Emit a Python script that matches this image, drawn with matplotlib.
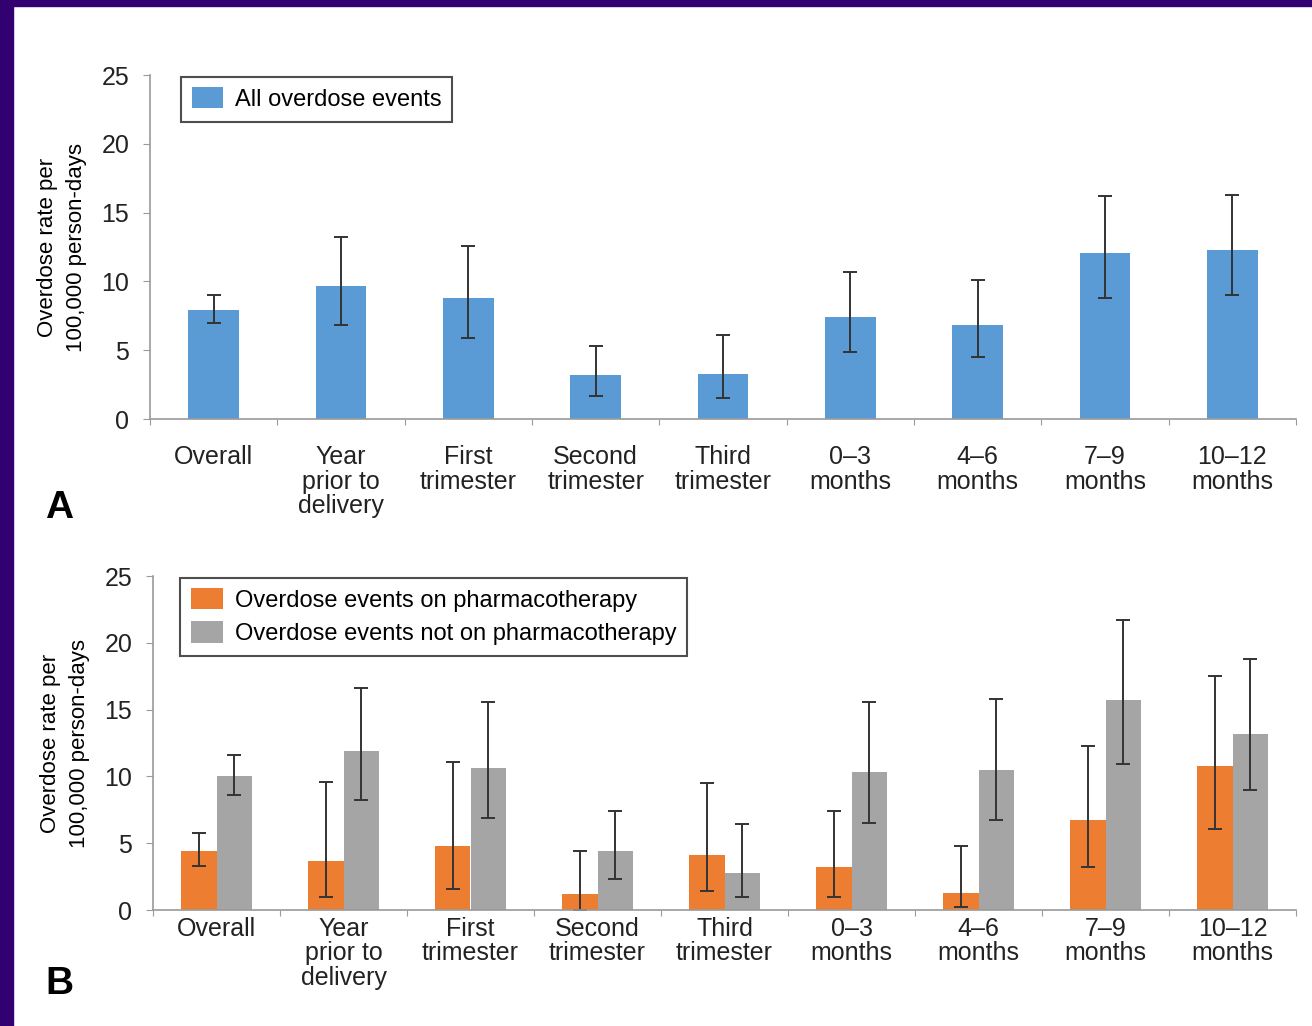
import numpy as np
import matplotlib.pyplot as plt
from matplotlib.patches import Rectangle

# ---- data ----
categories = ["Overall", "Year\nprior to\ndelivery", "First\ntrimester", "Second\ntrimester",
              "Third\ntrimester", "0\u20133\nmonths", "4\u20136\nmonths", "7\u20139\nmonths", "10\u201312\nmonths"]

# panel A: all overdose events
all_rate = [7.9, 9.7, 8.8, 3.2, 3.3, 7.4, 6.8, 12.1, 12.3]
all_lo = [7.0, 6.8, 5.9, 1.7, 1.5, 4.9, 4.5, 8.8, 9.0]
all_hi = [9.0, 13.2, 12.6, 5.3, 6.1, 10.7, 10.1, 16.2, 16.3]

# panel B: on / not on pharmacotherapy
on_rate = [4.4, 3.7, 4.8, 1.2, 4.1, 3.2, 1.3, 6.7, 10.8]
on_lo = [3.3, 1.0, 1.6, 0.0, 1.4, 1.0, 0.2, 3.2, 6.1]
on_hi = [5.8, 9.6, 11.1, 4.4, 9.5, 7.4, 4.8, 12.3, 17.5]
off_rate = [10.0, 11.9, 10.6, 4.4, 2.8, 10.3, 10.5, 15.7, 13.2]
off_lo = [8.6, 8.2, 6.9, 2.3, 1.0, 6.5, 6.7, 10.9, 9.0]
off_hi = [11.6, 16.6, 15.6, 7.4, 6.4, 15.6, 15.8, 21.7, 18.8]

BLUE = "#5B9BD5"
ORANGE = "#ED7D31"
GRAY = "#A5A5A5"
FRAME = "#330072"

plt.rcParams['font.family'] = ['Liberation Sans', 'DejaVu Sans']

fig = plt.figure(figsize=(13.12, 10.26), dpi=100)

# purple border strips (top and left)
fig.patches.append(Rectangle((0, 1 - 6 / 1026), 1, 6 / 1026, transform=fig.transFigure,
                             color=FRAME, zorder=0))
fig.patches.append(Rectangle((0, 0), 13 / 1312, 1, transform=fig.transFigure,
                             color=FRAME, zorder=0))

x = np.arange(len(categories))


def style_axes(ax, xpad):
    ax.set_xlim(-0.5, len(categories) - 0.5)
    ax.set_ylim(0, 25)
    ax.set_yticks([0, 5, 10, 15, 20, 25])
    for s in ["top", "right"]:
        ax.spines[s].set_visible(False)
    for s in ["left", "bottom"]:
        ax.spines[s].set_color("#9a9a9a")
        ax.spines[s].set_linewidth(1.2)
    ax.tick_params(axis="y", length=5, color="#9a9a9a", labelsize=18, pad=10, labelcolor="#222222")
    # category boundaries as ticks, labels centered
    ax.set_xticks(np.arange(len(categories) + 1) - 0.5)
    ax.set_xticklabels([])
    ax.tick_params(axis="x", which="major", length=4, color="#9a9a9a")
    ax.set_xticks(x, minor=True)
    ax.set_xticklabels(categories, minor=True, fontsize=18, color="#222222", linespacing=1.02)
    ax.tick_params(axis="x", which="minor", length=0, pad=xpad)
    ax.set_ylabel("Overdose rate per\n100,000 person-days", fontsize=16,
                  family=['Liberation Sans Narrow', 'Liberation Sans'], labelpad=10,
                  linespacing=1.55)


err_kw = dict(ecolor="#333333", elinewidth=1.4, capsize=5, capthick=1.4)

# ---- panel A ----
axA = fig.add_axes([150 / 1312, 1 - 419 / 1026, 1146 / 1312, 344 / 1026])
yerrA = [np.array(all_rate) - np.array(all_lo), np.array(all_hi) - np.array(all_rate)]
axA.bar(x, all_rate, width=0.4, color=BLUE, yerr=yerrA, error_kw=err_kw,
        label="All overdose events")
style_axes(axA, 19)
legA = axA.legend(loc="upper left", bbox_to_anchor=(0.027, 0.995), borderaxespad=0,
                  fontsize=17, frameon=True, fancybox=False, edgecolor="#222222",
                  handlelength=1.35, handleheight=1.0, borderpad=0.45, handletextpad=0.5)
legA.get_frame().set_linewidth(1.5)

# ---- panel B ----
axB = fig.add_axes([153 / 1312, 1 - 910 / 1026, 1143 / 1312, 334 / 1026])
w = 0.28
yerrOn = [np.array(on_rate) - np.array(on_lo), np.array(on_hi) - np.array(on_rate)]
yerrOff = [np.array(off_rate) - np.array(off_lo), np.array(off_hi) - np.array(off_rate)]
axB.bar(x - w / 2, on_rate, width=w, color=ORANGE, yerr=yerrOn, error_kw=err_kw,
        label="Overdose events on pharmacotherapy")
axB.bar(x + w / 2, off_rate, width=w, color=GRAY, yerr=yerrOff, error_kw=err_kw,
        label="Overdose events not on pharmacotherapy")
style_axes(axB, 5)
legB = axB.legend(loc="upper left", bbox_to_anchor=(0.024, 0.995), borderaxespad=0,
                  fontsize=17, frameon=True, fancybox=False, edgecolor="#222222",
                  handlelength=1.35, handleheight=1.0, borderpad=0.45, handletextpad=0.5,
                  labelspacing=0.4)
legB.get_frame().set_linewidth(1.5)

# panel letters
fig.text(45 / 1312, 1 - 508 / 1026, "A", fontsize=28, fontweight="bold", va="center", ha="left")
fig.text(45 / 1312, 1 - 984 / 1026, "B", fontsize=28, fontweight="bold", va="center", ha="left")

fig.savefig("out.png", dpi=100)
